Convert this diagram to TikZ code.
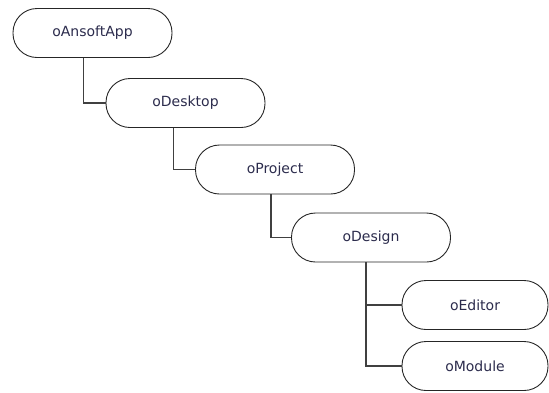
\documentclass[tikz,border=0pt]{standalone}
\usepackage{fontspec}
\setmainfont{DejaVu Sans}
\definecolor{labelink}{rgb}{0.17,0.17,0.30}
\definecolor{wire}{rgb}{0.25,0.25,0.25}
\begin{document}
\begin{tikzpicture}[x=1pt, y=-1pt,
    obj/.style={draw=black!85, line width=0.9pt, rounded corners=24pt,
      minimum width=159pt, minimum height=49pt, inner sep=0pt,
      text=labelink, font=\fontsize{14}{16}\selectfont},
    link/.style={draw=wire, line width=1.1pt}]
  \useasboundingbox (0, 0) rectangle (549, 392);

  \node[obj] (app) at (92.5, 33) {oAnsoftApp};
  \node[obj] (desktop) at (185.5, 103) {oDesktop};
  \node[obj] (project) at (275, 169.5) {oProject};
  \node[obj] (design) at (371, 237.5) {oDesign};
  \node[obj, minimum width=146pt] (editor) at (475, 305) {oEditor};
  \node[obj, minimum width=146pt] (module) at (475, 366) {oModule};

  \draw[link] ([xshift=-9pt]app.south) |- (desktop.west);
  \draw[link] ([xshift=-12pt]desktop.south) |- (project.west);
  \draw[link] ([xshift=-4pt]project.south) |- (design.west);
  \draw[link] ([xshift=-5pt]design.south) |- (editor.west);
  \draw[link] ([xshift=-5pt]design.south) |- (module.west);

\end{tikzpicture}
\end{document}
